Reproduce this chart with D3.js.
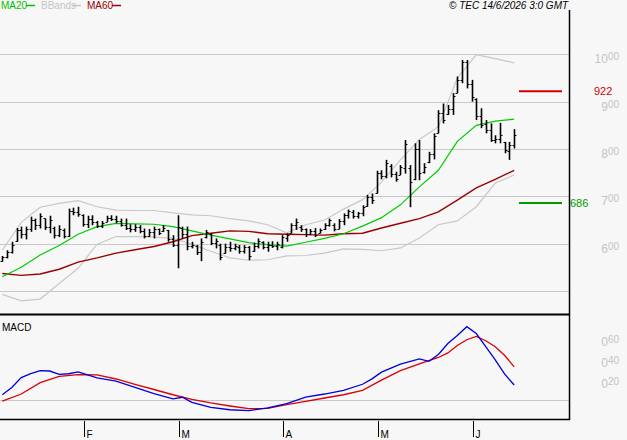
<!DOCTYPE html>
<html>
<head>
<meta charset="utf-8">
<script src="https://cdn.jsdelivr.net/npm/d3@7/dist/d3.min.js"></script>
<style>
body { margin: 0; background: #f7f7f7; }
text { font-family: "Liberation Sans", Arial, sans-serif; }
</style>
</head>
<body>
<div id="chart-area"></div>
<script>
// daily bars, Jan -> 12 Jun
var highs  = [5.74,5.86,6.04,6.33,6.36,6.36,6.57,6.53,6.64,6.53,6.59,6.36,6.39,6.32,6.74,6.76,6.78,6.62,6.59,6.60,
              6.48,6.48,6.59,6.60,6.59,6.53,6.53,6.41,6.41,6.39,6.32,6.31,6.36,6.32,6.39,6.29,6.18,6.60,6.36,6.36,
              6.04,5.97,6.11,6.29,6.22,6.11,6.00,6.00,6.04,6.00,5.97,5.97,5.95,6.02,6.11,6.05,6.04,6.05,6.04,6.18,
              6.22,6.43,6.53,6.39,6.32,6.31,6.33,6.32,6.43,6.53,6.43,6.52,6.64,6.72,6.71,6.67,6.81,7.03,7.06,7.54,
              7.55,7.77,7.68,7.52,7.66,8.19,7.66,8.12,8.19,7.70,7.94,8.33,8.82,8.96,8.93,9.18,9.53,9.88,9.88,9.46,
              9.07,8.86,8.61,8.54,8.29,8.55,8.15,8.15,8.42];
var lows   = [5.62,5.69,5.79,6.04,6.11,6.09,6.25,6.29,6.32,6.29,6.22,6.11,6.14,6.11,6.14,6.60,6.57,6.36,6.33,6.39,
              6.33,6.33,6.46,6.48,6.43,6.36,6.29,6.24,6.25,6.22,6.11,6.14,6.11,6.18,6.25,6.04,5.93,5.48,6.11,5.86,
              5.90,5.76,5.63,6.11,5.97,5.90,5.65,5.79,5.83,5.86,5.79,5.79,5.65,5.83,5.90,5.88,5.83,5.91,5.86,5.90,
              6.04,6.22,6.29,6.25,6.14,6.18,6.14,6.22,6.29,6.36,6.26,6.31,6.39,6.53,6.53,6.53,6.58,6.78,6.84,7.06,
              7.36,7.38,7.40,7.31,7.45,7.48,6.77,7.34,7.34,7.48,7.70,7.78,8.33,8.54,8.72,8.72,9.18,9.39,9.28,9.00,
              8.61,8.44,8.33,8.15,8.12,8.12,7.91,7.77,8.01];
var opens  = [5.64,5.72,5.82,6.06,6.28,6.20,6.30,6.50,6.40,6.55,6.36,6.34,6.18,6.28,6.16,6.70,6.66,6.60,6.42,6.52,
              6.46,6.38,6.46,6.55,6.52,6.48,6.40,6.34,6.30,6.36,6.26,6.16,6.24,6.30,6.26,6.28,6.10,5.98,6.34,6.20,
              5.96,5.96,5.82,6.14,6.20,6.02,5.98,5.80,5.94,5.90,5.94,5.84,5.92,5.84,5.96,6.04,5.94,5.98,5.96,5.94,
              6.12,6.22,6.40,6.36,6.30,6.20,6.26,6.22,6.30,6.40,6.40,6.32,6.48,6.60,6.66,6.58,6.64,6.80,6.98,7.08,
              7.50,7.42,7.64,7.48,7.46,7.60,7.60,7.36,8.00,7.52,7.72,7.90,8.34,8.76,8.74,8.84,9.18,9.46,9.84,9.38,
              9.06,8.70,8.52,8.40,8.20,8.22,8.14,7.96,8.08];
var closes = [5.72,5.82,5.98,6.28,6.20,6.30,6.50,6.40,6.58,6.36,6.50,6.18,6.30,6.16,6.70,6.66,6.62,6.42,6.52,6.46,
              6.38,6.44,6.55,6.52,6.48,6.40,6.34,6.30,6.36,6.26,6.16,6.24,6.30,6.22,6.34,6.10,5.98,6.36,6.20,5.96,
              5.98,5.82,6.04,6.24,6.02,6.06,5.72,5.94,5.90,5.96,5.84,5.92,5.74,5.96,6.06,5.94,5.98,5.96,6.00,6.14,
              6.18,6.40,6.46,6.30,6.20,6.26,6.18,6.28,6.40,6.50,6.32,6.48,6.60,6.68,6.58,6.64,6.78,6.98,6.92,7.50,
              7.42,7.70,7.48,7.36,7.62,8.10,7.30,8.00,7.50,7.62,7.90,8.28,8.76,8.62,8.84,9.12,9.46,9.84,9.38,9.10,
              8.70,8.50,8.40,8.20,8.22,8.30,7.98,8.08,8.30];

// indicator lines, read every 4 bars
var lineIdx = [0,4,8,12,16,20,24,28,32,36,40,44,48,52,56,60,64,68,72,76,80,84,88,92,96,100,104,108];
var ma20    = [5.30,5.50,5.76,5.96,6.20,6.36,6.43,6.42,6.41,6.36,6.27,6.18,6.10,6.02,5.98,5.95,6.03,6.11,6.21,6.37,
               6.55,6.82,7.20,7.55,8.16,8.50,8.59,8.63];
var bbUpper = [5.86,6.45,6.77,6.85,6.91,6.78,6.71,6.70,6.70,6.65,6.61,6.59,6.53,6.48,6.40,6.23,6.40,6.50,6.73,6.93,
               7.30,7.77,8.20,8.47,9.50,9.99,9.91,9.82];
var bbLower = [4.93,4.79,4.83,5.16,5.48,5.99,6.15,6.15,6.14,6.11,5.99,5.84,5.70,5.65,5.66,5.74,5.75,5.80,5.89,5.88,
               5.85,5.91,6.12,6.40,6.48,6.78,7.28,7.45];
var ma60    = [5.37,5.33,5.36,5.46,5.61,5.70,5.80,5.87,5.94,6.04,6.17,6.22,6.27,6.26,6.21,6.20,6.19,6.18,6.21,6.22,
               6.33,6.43,6.53,6.67,6.92,7.18,7.36,7.55];

var macdIdx  = [0,2,4,6,8,10,12,14,16,20,24,28,32,36,38,40,44,48,52,56,60,64,68,72,76,78,80,84,88,90,92,94,96,98,
                100,102,104,106,108];
var macd     = [0.050,0.119,0.214,0.252,0.279,0.276,0.245,0.250,0.267,0.211,0.179,0.120,0.060,0.011,0.026,-0.023,
                -0.070,-0.093,-0.101,-0.076,-0.034,0.028,0.057,0.092,0.150,0.201,0.265,0.341,0.392,0.369,0.433,
                0.538,0.614,0.698,0.633,0.508,0.383,0.246,0.143];
var signalIdx = [0,4,8,12,16,20,24,28,32,36,40,44,48,52,56,60,64,68,72,76,80,84,88,92,94,96,98,100,102,104,106,108];
var signal    = [-0.011,0.057,0.166,0.225,0.242,0.240,0.200,0.148,0.100,0.050,0.006,-0.028,-0.057,-0.083,-0.079,
                 -0.043,-0.014,0.019,0.050,0.092,0.189,0.279,0.343,0.405,0.448,0.519,0.574,0.606,0.564,0.507,
                 0.424,0.316];

var monthIdx = [17,37,59,79,99];
var monthLabels = ["F","M","A","M","J"];
var gridPrices = [5,6,7,8,9,10];
var priceTicks = [6,7,8,9,10];
var macdTicks = [0.2,0.4,0.6];
var resistance = 9.22;
var support = 6.86;

var width = 627, height = 440;
var plotRight = 569;

var svg = d3.select("#chart-area")
    .append("svg")
        .attr("width", width)
        .attr("height", height);

svg.append("rect")
    .attr("width", width)
    .attr("height", height)
    .attr("fill", "#f7f7f7");

// scales
var x = d3.scaleLinear()
    .domain([0, 108])
    .range([2.3, 514.2]);

var y = d3.scaleLinear()
    .domain([5, 10])
    .range([291, 54.3]);

var ym = d3.scaleLinear()
    .domain([0, 0.6])
    .range([400, 337]);

// grid
svg.selectAll(".grid")
    .data(gridPrices)
    .enter().append("line")
        .attr("x1", 0)
        .attr("x2", plotRight)
        .attr("y1", function(d){ return Math.round(y(d)) + 0.5; })
        .attr("y2", function(d){ return Math.round(y(d)) + 0.5; })
        .attr("stroke", "#c8c8c8")
        .attr("stroke-width", 1.2);

svg.append("line")
    .attr("x1", 0).attr("x2", plotRight)
    .attr("y1", ym(0) + 0.5).attr("y2", ym(0) + 0.5)
    .attr("stroke", "#c8c8c8")
    .attr("stroke-width", 1.2);

// price labels, decimals raised
function supLabel(sel, whole, dec) {
    sel.append("tspan").text(whole);
    sel.append("tspan").attr("dy", -3).attr("font-size", "10px").text(dec);
}

priceTicks.forEach(function(p){
    var t = svg.append("text")
        .attr("x", 619)
        .attr("y", y(p) + 9)
        .attr("text-anchor", "end")
        .attr("font-size", "12px")
        .attr("fill", "#c4c4c4");
    supLabel(t, String(p), "00");
});

macdTicks.forEach(function(m){
    var t = svg.append("text")
        .attr("x", 619)
        .attr("y", ym(m) + 9)
        .attr("text-anchor", "end")
        .attr("font-size", "12px")
        .attr("fill", "#c4c4c4");
    supLabel(t, "0", d3.format(".2f")(m).split(".")[1]);
});

// clip for main panel
svg.append("clipPath").attr("id", "main-clip")
  .append("rect").attr("x", 0).attr("y", 12).attr("width", plotRight).attr("height", 302);

var main = svg.append("g").attr("clip-path", "url(#main-clip)");

var line = d3.line()
    .x(function(d){ return x(d[0]); })
    .y(function(d){ return y(d[1]); });

function pairs(idx, vals) {
    return idx.map(function(d, i){ return [d, vals[i]]; });
}

main.append("path")
    .attr("d", line(pairs(lineIdx, bbUpper)))
    .attr("fill", "none").attr("stroke", "#c8c8c8").attr("stroke-width", 1.2);
main.append("path")
    .attr("d", line(pairs(lineIdx, bbLower)))
    .attr("fill", "none").attr("stroke", "#c8c8c8").attr("stroke-width", 1.2);
main.append("path")
    .attr("d", line(pairs(lineIdx, ma60)))
    .attr("fill", "none").attr("stroke", "#9a0000").attr("stroke-width", 1.4);
main.append("path")
    .attr("d", line(pairs(lineIdx, ma20)))
    .attr("fill", "none").attr("stroke", "#00cc00").attr("stroke-width", 1.2);

// OHLC bars
var bars = main.selectAll(".bar")
    .data(highs)
    .enter().append("g")
        .attr("class", "bar");

bars.append("line")
    .attr("x1", function(d, i){ return Math.round(x(i)) + 0.5; })
    .attr("x2", function(d, i){ return Math.round(x(i)) + 0.5; })
    .attr("y1", function(d, i){ return y(highs[i]); })
    .attr("y2", function(d, i){ return y(lows[i]); })
    .attr("stroke", "#000")
    .attr("stroke-width", 1.6);

bars.append("line")
    .attr("x1", function(d, i){ return Math.round(x(i)) - 1.5; })
    .attr("x2", function(d, i){ return Math.round(x(i)) + 0.5; })
    .attr("y1", function(d, i){ return Math.round(y(opens[i])) + 0.5; })
    .attr("y2", function(d, i){ return Math.round(y(opens[i])) + 0.5; })
    .attr("stroke", "#000");

bars.append("line")
    .attr("x1", function(d, i){ return Math.round(x(i)) + 0.5; })
    .attr("x2", function(d, i){ return Math.round(x(i)) + 2.5; })
    .attr("y1", function(d, i){ return Math.round(y(closes[i])) + 0.5; })
    .attr("y2", function(d, i){ return Math.round(y(closes[i])) + 0.5; })
    .attr("stroke", "#000");

// support / resistance
svg.append("line")
    .attr("x1", 519).attr("x2", 562)
    .attr("y1", y(resistance)).attr("y2", y(resistance))
    .attr("stroke", "#cc0000").attr("stroke-width", 2);
svg.append("text")
    .attr("x", 594).attr("y", y(resistance) + 4)
    .attr("font-size", "11px").attr("fill", "#cc0000")
    .text(d3.format(".2f")(resistance).replace(".", ""));

svg.append("line")
    .attr("x1", 519).attr("x2", 562)
    .attr("y1", y(support)).attr("y2", y(support))
    .attr("stroke", "#009900").attr("stroke-width", 2);
svg.append("text")
    .attr("x", 570).attr("y", y(support) + 4)
    .attr("font-size", "11px").attr("fill", "#009900")
    .text(d3.format(".2f")(support).replace(".", ""));

// MACD panel
var mline = d3.line()
    .x(function(d){ return x(d[0]); })
    .y(function(d){ return ym(d[1]); });

svg.append("path")
    .attr("d", mline(pairs(signalIdx, signal)))
    .attr("fill", "none").attr("stroke", "#dd0000").attr("stroke-width", 1.3);
svg.append("path")
    .attr("d", mline(pairs(macdIdx, macd)))
    .attr("fill", "none").attr("stroke", "#0000dd").attr("stroke-width", 1.3);

svg.append("text")
    .attr("x", 2).attr("y", 331)
    .attr("font-size", "10px")
    .text("MACD");

// frame
svg.append("line")
    .attr("x1", plotRight + 0.5).attr("x2", plotRight + 0.5)
    .attr("y1", 10).attr("y2", 420)
    .attr("stroke", "#000").attr("stroke-width", 1.5);
svg.append("line")
    .attr("x1", 0).attr("x2", plotRight + 1)
    .attr("y1", 314.5).attr("y2", 314.5)
    .attr("stroke", "#000").attr("stroke-width", 2);
svg.append("line")
    .attr("x1", 0).attr("x2", plotRight + 1)
    .attr("y1", 419.5).attr("y2", 419.5)
    .attr("stroke", "#000").attr("stroke-width", 1.5);

// month ticks
var months = svg.selectAll(".month")
    .data(monthIdx)
    .enter().append("g")
        .attr("class", "month")
        .attr("transform", function(d){ return "translate(" + (Math.round(x(d)) + 1.5) + ",0)"; });

months.append("line")
    .attr("y1", 421).attr("y2", 437)
    .attr("stroke", "#000");

months.append("text")
    .attr("x", 2)
    .attr("y", 438)
    .attr("font-size", "10px")
    .text(function(d, i){ return monthLabels[i]; });

// legend
var legend = [
    {label: "MA20", color: "#00c000", x: 1, lx: 26},
    {label: "BBands", color: "#c4c4c4", x: 41, lx: 72},
    {label: "MA60", color: "#9a0000", x: 87, lx: 112}
];

legend.forEach(function(l){
    svg.append("text")
        .attr("x", l.x).attr("y", 9)
        .attr("font-size", "10px")
        .attr("fill", l.color)
        .text(l.label);
    svg.append("line")
        .attr("x1", l.lx).attr("x2", l.lx + 9)
        .attr("y1", 5.5).attr("y2", 5.5)
        .attr("stroke", l.color).attr("stroke-width", 1.5);
});

svg.append("text")
    .attr("x", 449).attr("y", 9)
    .attr("font-size", "10px")
    .attr("font-style", "italic")
    .text("\u00a9 TEC 14/6/2026 3:0 GMT");
</script>
</body>
</html>
